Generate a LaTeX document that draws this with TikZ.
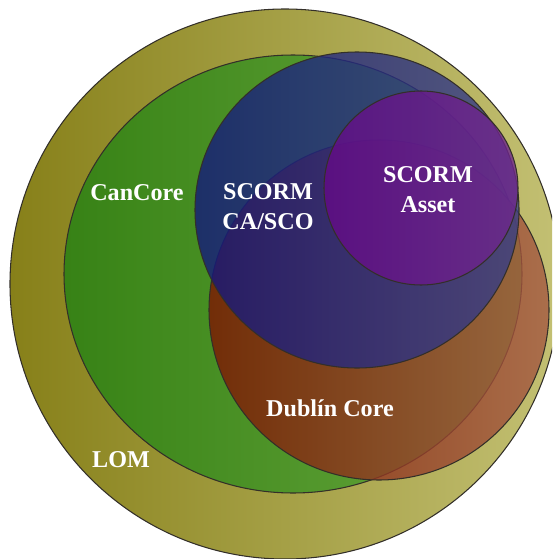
\documentclass[tikz,border=0pt]{standalone}
\usepackage{fontspec}
\setmainfont{Liberation Serif}
\usepackage{tikz}
\definecolor{lomleft}{RGB}{135,128,25}
\definecolor{lomright}{RGB}{195,192,115}
\definecolor{canleft}{RGB}{40,130,20}
\definecolor{canright}{RGB}{90,165,55}
\definecolor{dubleft}{RGB}{125,22,2}
\definecolor{dubright}{RGB}{165,90,66}
\definecolor{scoleft}{RGB}{18,22,125}
\definecolor{scoright}{RGB}{55,62,135}
\definecolor{assleft}{RGB}{100,10,135}
\definecolor{assright}{RGB}{110,40,140}

\begin{document}
\begin{tikzpicture}[x=0.03cm,y=-0.03cm,
  ring/.style={draw=black!85!olive,line width=0.9pt},
  lbl/.style={text=white,font=\fontsize{20.6}{25.6}\selectfont\bfseries,align=center}]
\useasboundingbox (0,0) rectangle (552,559);
\clip (0,0) rectangle (552,559);

\path[ring,left color=lomleft,right color=lomright] (285,284) circle [radius=275];
\path[ring,left color=canleft,right color=canright,fill opacity=0.85] (293,274) ellipse [x radius=229,y radius=219];
\path[ring,left color=dubleft,right color=dubright,fill opacity=0.8] (379,310) circle [radius=170];
\path[ring,left color=scoleft,right color=scoright,fill opacity=0.78] (357,210) ellipse [x radius=162,y radius=158];
\path[ring,left color=assleft,right color=assright,fill opacity=0.8] (421,188) circle [radius=97];

\node[lbl] (cancore) at (137,193) {CanCore};
\node[lbl] (scormsco) at (268,207) {SCORM\\CA/SCO};
\node[lbl] (scormasset) at (428,190) {SCORM\\Asset};
\node[lbl] (dublin) at (330,408) {Dublín Core};
\node[lbl] (lom) at (121,460) {LOM};
\end{tikzpicture}
\end{document}
